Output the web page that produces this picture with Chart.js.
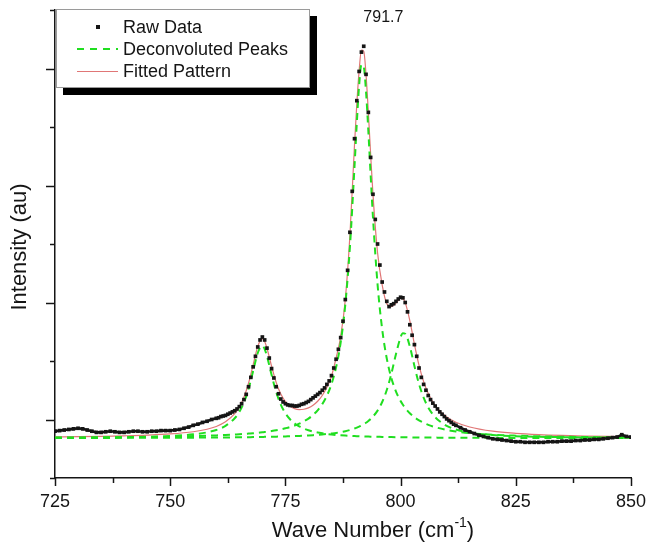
<!DOCTYPE html>
<html>
<head>
<meta charset="utf-8">
<script src="https://cdn.jsdelivr.net/npm/chart.js@4.4.1/dist/chart.umd.min.js"></script>
<style>
  html, body { margin: 0; padding: 0; background: #fff; }
  #wrap { width: 647px; height: 545px; }
</style>
</head>
<body>
<div id="wrap"><canvas id="spectrum" width="647" height="545"></canvas></div>
<script>
// wave numbers (cm-1) and intensities (arbitrary units)
const rawWave = [
  725,726,727,728,729,730,731,732,733,734,735,736,737,738,739,740,741,742,743,744,
  745,746,747,748,749,750,751,752,753,754,755,756,757,758,759,
  760,760.5,761,761.5,762,762.5,763,763.5,764,764.5,765,765.5,766,766.5,767,767.5,768,768.5,769,769.5,
  770,770.5,771,771.5,772,772.5,773,773.5,774,774.5,775,775.5,776,776.5,777,777.5,778,778.5,779,779.5,
  780,780.5,781,781.5,782,782.5,783,783.5,784,784.5,785,785.5,786,786.5,787,787.5,788,788.5,789,789.5,
  790,790.5,791,791.5,792,792.5,793,793.5,794,794.5,795,795.5,796,796.5,797,797.5,798,798.5,799,799.5,
  800,800.5,801,801.5,802,802.5,803,803.5,804,804.5,805,805.5,806,806.5,807,807.5,808,808.5,809,809.5,
  810,810.5,811,811.5,812,
  813,814,815,816,817,818,819,820,821,822,823,824,825,826,827,828,829,830,831,832,
  833,834,835,836,837,838,839,840,841,842,843,844,845,846,847,848,849,850
];
const rawIntensity = [
  80,81,82,83,84,85,84,82,80,78,78,79,80,79,78,78,79,80,80,79,
  79,80,80,81,81,81,82,83,85,87,90,92,95,97,100,
  102,103,105,106,107,109,111,113,115,118,122,127,134,143,156,172,190,208,224,236,
  241,236,222,205,187,171,156,144,135,130,127,125,124,124,123,123,124,126,127,129,
  131,134,137,140,143,146,150,154,160,166,175,188,203,220,240,268,305,355,420,490,
  580,645,695,728,738,690,625,548,485,442,400,364,335,318,302,293,296,298,302,306,
  309,308,300,284,262,244,228,208,188,172,160,150,141,134,128,123,118,113,109,105,
  101,98,95,92,90,
  86,82,79,76,73,71,69,67,66,65,64,63,62,62,61,61,61,61,61,62,
  62,62,63,63,63,64,64,65,65,66,66,67,68,69,70,74,71,70
];

const fitWave = [
  725,730,735,740,745,750,755,758,760,762,764,765,766,767,768,769,770,770.5,
  771,772,773,774,775,776,777,778,779,780,781,782,783,784,785,786,787,788,789,790,
  790.5,791,791.5,792,792.5,793,793.5,794,795,796,797,798,799,800,800.5,
  801,802,803,804,805,806,807,808,810,812,815,820,825,830,835,840,845,850
];
const fittedPattern = [
  70.2,70.6,71.2,72.1,73.3,75.3,79.1,83.4,88.1,96.0,110.0,121.6,138.2,161.9,193.3,225.0,238.4,233.2,
  221.8,191.1,163.3,143.5,130.7,122.9,118.6,117.0,117.5,119.9,124.4,131.2,141.1,155.1,174.0,205.0,242.0,305.0,415.0,570.0,
  640.0,696.0,731.4,729.5,689.3,625.0,553.0,485.2,385.0,330.0,298.0,293.0,299.0,307.0,306.5,
  299.8,269.2,228.8,192.5,164.8,144.6,129.8,118.9,104.3,95.4,87.2,80.0,76.3,74.1,72.7,71.7,71.0,70.5
];
const peak770 = [
  68.8,69.0,69.2,69.7,70.4,71.7,74.6,78.0,82.1,89.1,102.2,113.2,129.2,152.2,182.8,213.7,226.0,220.3,
  208.3,176.3,147.0,125.5,110.6,100.4,93.3,88.2,84.4,81.6,79.4,77.7,76.4,75.3,74.4,73.6,73.0,72.5,72.1,71.7,
  71.5,71.3,71.2,71.1,70.9,70.8,70.7,70.6,70.4,70.2,70.0,69.9,69.8,69.7,69.6,
  69.6,69.5,69.4,69.3,69.2,69.2,69.1,69.0,68.9,68.9,68.7,68.6,68.5,68.4,68.4,68.3,68.3,68.2
];
const peak792 = [
  69.1,69.3,69.5,69.8,70.2,70.8,71.6,72.3,72.8,73.5,74.3,74.7,75.3,75.9,76.5,77.3,78.2,78.6,
  79.1,80.3,81.6,83.1,85.0,87.1,89.7,92.9,96.8,101.6,107.8,115.7,126.3,140.6,160.6,189.2,231.7,296.5,394.9,532.6,
  607.3,671.1,706.6,702.6,660.0,592.9,517.5,445.8,331.1,254.4,204.2,170.8,147.8,131.5,125.1,
  119.6,110.7,103.9,98.6,94.3,90.9,88.1,85.8,82.2,79.6,76.8,74.0,72.4,71.3,70.6,70.1,69.7,69.4
];
const peak801 = [
  68.4,68.4,68.5,68.6,68.7,68.8,69.0,69.2,69.3,69.4,69.5,69.6,69.7,69.8,69.9,70.1,70.2,70.3,
  70.4,70.5,70.7,70.9,71.1,71.4,71.6,72.0,72.3,72.7,73.2,73.8,74.4,75.2,76.1,77.1,78.4,80.0,82.0,84.5,
  86.0,87.7,89.6,91.8,94.4,97.4,100.8,104.9,115.2,129.9,150.4,178.4,212.0,240.7,247.4,
  246.6,225.0,191.5,160.6,137.3,120.5,108.6,100.1,89.2,82.9,77.6,73.4,71.5,70.4,69.8,69.3,69.1,68.9
];

const waveTicks = [725, 750, 775, 800, 825, 850];
const intensityMajor = [100, 300, 500, 700];
const legendLabels = ['Raw Data', 'Deconvoluted Peaks', 'Fitted Pattern'];
const peakLabel = { wave: 791.7, text: '791.7' };

const FONT = '"Liberation Sans", Arial, sans-serif';
const GREEN = 'rgb(32,222,32)';
const RED = 'rgb(224,118,118)';
const INK = '#151515';

function points(xs, ys) {
  return xs.map((x, i) => ({ x: x, y: ys[i] }));
}

function greenPeak(values) {
  return {
    data: points(fitWave, values),
    showLine: true,
    borderColor: GREEN,
    borderWidth: 2,
    borderDash: [7, 5],
    pointRadius: 0,
    cubicInterpolationMode: 'monotone',
    order: 1
  };
}

// ticks, titles, legend box and the peak label
const decorations = {
  id: 'decorations',
  afterDraw(chart) {
    const { ctx, chartArea, scales: { x, y } } = chart;
    ctx.save();

    ctx.strokeStyle = INK;
    ctx.lineWidth = 1.5;
    x.ticks.forEach(t => {
      const px = Math.round(x.getPixelForValue(t.value)) + 0.5;
      const len = waveTicks.includes(t.value) ? 8 : 5;
      ctx.beginPath();
      ctx.moveTo(px, chartArea.bottom);
      ctx.lineTo(px, chartArea.bottom + len);
      ctx.stroke();
    });
    y.ticks.forEach(t => {
      const py = Math.round(y.getPixelForValue(t.value)) + 0.5;
      const len = intensityMajor.includes(t.value) ? 9 : 5;
      ctx.beginPath();
      ctx.moveTo(chartArea.left, py);
      ctx.lineTo(chartArea.left - len, py);
      ctx.stroke();
    });

    // axis titles
    ctx.fillStyle = INK;
    ctx.textBaseline = 'alphabetic';
    const main = 'Wave Number (cm';
    ctx.font = '14px ' + FONT;
    const supW = ctx.measureText('-1').width;
    ctx.font = '22px ' + FONT;
    const mainW = ctx.measureText(main).width;
    const closeW = ctx.measureText(')').width;
    const tx = 373 - (mainW + supW + closeW) / 2;
    ctx.textAlign = 'left';
    ctx.fillText(main, tx, 537);
    ctx.font = '14px ' + FONT;
    ctx.fillText('-1', tx + mainW, 527);
    ctx.font = '22px ' + FONT;
    ctx.fillText(')', tx + mainW + supW, 537);

    ctx.save();
    ctx.translate(20, 247);
    ctx.rotate(-Math.PI / 2);
    ctx.textAlign = 'center';
    ctx.textBaseline = 'middle';
    ctx.fillText('Intensity (au)', 0, 0);
    ctx.restore();

    // peak label
    ctx.font = '16px ' + FONT;
    ctx.textAlign = 'left';
    ctx.textBaseline = 'middle';
    ctx.fillText(peakLabel.text, x.getPixelForValue(peakLabel.wave) + 1, 18);

    // legend with drop shadow
    ctx.fillStyle = '#000';
    ctx.fillRect(63, 16, 254, 79);
    ctx.fillStyle = '#fff';
    ctx.fillRect(56, 9, 254, 79);
    ctx.strokeStyle = '#9a9a9a';
    ctx.lineWidth = 1;
    ctx.strokeRect(56.5, 9.5, 253, 78);

    const rows = [27, 49, 71];
    ctx.fillStyle = INK;
    ctx.fillRect(96, rows[0] - 2, 4, 4);
    ctx.strokeStyle = GREEN;
    ctx.lineWidth = 2;
    ctx.setLineDash([7, 6]);
    ctx.beginPath();
    ctx.moveTo(77, rows[1]);
    ctx.lineTo(118, rows[1]);
    ctx.stroke();
    ctx.setLineDash([]);
    ctx.strokeStyle = RED;
    ctx.lineWidth = 1.2;
    ctx.beginPath();
    ctx.moveTo(77, rows[2] + 0.5);
    ctx.lineTo(118, rows[2] + 0.5);
    ctx.stroke();

    ctx.fillStyle = INK;
    ctx.font = '18px ' + FONT;
    ctx.textAlign = 'left';
    ctx.textBaseline = 'middle';
    legendLabels.forEach((label, i) => ctx.fillText(label, 123, rows[i] + 1));

    ctx.restore();
  }
};

new Chart(document.getElementById('spectrum'), {
  type: 'scatter',
  data: {
    datasets: [
      {
        data: points(rawWave, rawIntensity),
        pointStyle: 'rect',
        pointRadius: 2.6,
        pointBackgroundColor: INK,
        pointBorderWidth: 0,
        showLine: true,
        borderColor: INK,
        borderWidth: 2.6,
        // the dense flat stretches read as a solid trace, the peaks as separate dots
        segment: {
          borderColor: c => (c.p1.parsed.x - c.p0.parsed.x >= 1 ? INK : 'transparent')
        },
        order: 0
      },
      greenPeak(peak770),
      greenPeak(peak792),
      greenPeak(peak801),
      {
        data: points(fitWave, fittedPattern),
        showLine: true,
        borderColor: RED,
        borderWidth: 1.2,
        pointRadius: 0,
        cubicInterpolationMode: 'monotone',
        order: 2
      }
    ]
  },
  options: {
    responsive: false,
    animation: false,
    devicePixelRatio: 1,
    layout: { padding: { left: 0, right: 16, top: 10, bottom: 0 } },
    plugins: { legend: { display: false }, tooltip: { enabled: false } },
    scales: {
      x: {
        type: 'linear',
        min: 725,
        max: 850,
        grid: { display: false, drawTicks: true, tickLength: 8 },
        border: { display: true, color: INK, width: 1.5 },
        ticks: {
          stepSize: 12.5,
          autoSkip: false,
          maxRotation: 0,
          padding: 5,
          color: INK,
          font: { family: FONT, size: 18 },
          callback: v => (waveTicks.includes(v) ? String(v) : '')
        },
        afterFit: s => { s.height = 67; s.paddingLeft = 0; s.paddingRight = 0; }
      },
      y: {
        min: 0,
        max: 800,
        grid: { display: false },
        border: { display: true, color: INK, width: 1.5 },
        ticks: { stepSize: 100, display: false },
        afterFit: s => { s.width = 55; }
      }
    }
  },
  plugins: [decorations]
});
</script>
</body>
</html>
